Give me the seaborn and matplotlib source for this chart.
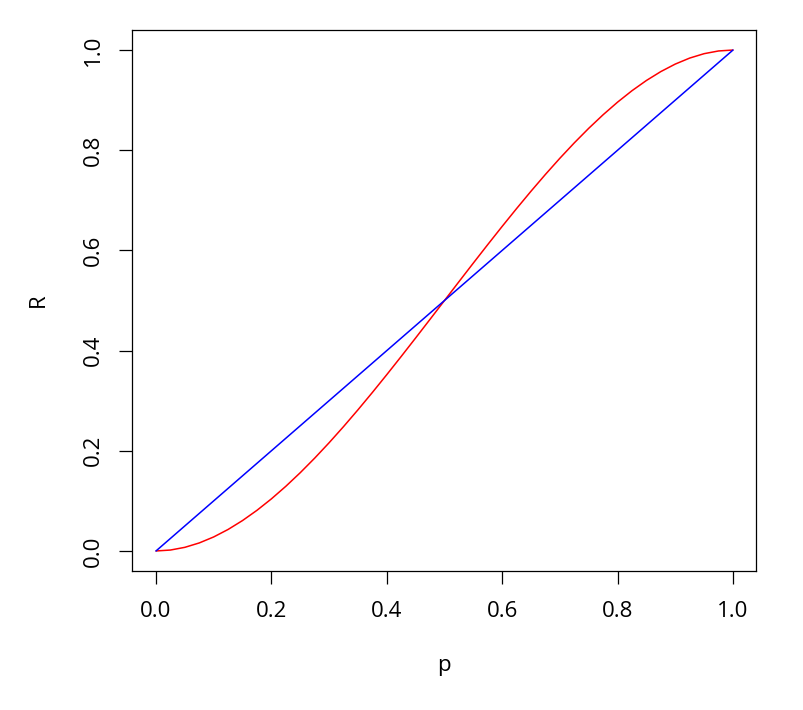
import matplotlib
matplotlib.use("Agg")
import matplotlib.pyplot as plt
import seaborn as sns
import pandas as pd

p_vals = [0.0, 0.025, 0.05, 0.075, 0.1, 0.125, 0.15, 0.175, 0.2, 0.225, 0.25,
          0.275, 0.3, 0.325, 0.35, 0.375, 0.4, 0.425, 0.45, 0.475, 0.5,
          0.525, 0.55, 0.575, 0.6, 0.625, 0.65, 0.675, 0.7, 0.725, 0.75,
          0.775, 0.8, 0.825, 0.85, 0.875, 0.9, 0.925, 0.95, 0.975, 1.0]
r_curve = [0.0, 0.00184, 0.00725, 0.01603, 0.028, 0.04297, 0.06075, 0.08116,
           0.104, 0.12909, 0.15625, 0.18528, 0.216, 0.24822, 0.28175, 0.31641,
           0.352, 0.38834, 0.42525, 0.46253, 0.5, 0.53747, 0.57475, 0.61166,
           0.648, 0.68359, 0.71825, 0.75178, 0.784, 0.81472, 0.84375, 0.87091,
           0.896, 0.91884, 0.93925, 0.95703, 0.972, 0.98397, 0.99275, 0.99816, 1.0]
line_p = [0.0, 1.0]
line_r = [0.0, 1.0]
ticks = [0.0, 0.2, 0.4, 0.6, 0.8, 1.0]
tick_labels = ["0.0", "0.2", "0.4", "0.6", "0.8", "1.0"]

sns.set_style("white")
plt.rcParams['font.family'] = ['Open Sans', 'DejaVu Sans']
plt.rcParams['text.color'] = 'black'
plt.rcParams['axes.labelcolor'] = 'black'

fig = plt.figure(figsize=(8.04, 7.10), dpi=100)
ax = fig.add_axes([132 / 804, (710 - 571) / 710, (756 - 132) / 804, (571 - 30) / 710])

df_curve = pd.DataFrame({"p": p_vals, "R": r_curve})
df_line = pd.DataFrame({"p": line_p, "R": line_r})
sns.lineplot(data=df_curve, x="p", y="R", color="red", linewidth=1.1, ax=ax, sort=False)
sns.lineplot(data=df_line, x="p", y="R", color="blue", linewidth=1.1, ax=ax, sort=False)

ax.set_xlim(-0.0416, 1.0399)
ax.set_ylim(-0.04, 1.04)
ax.set_xticks(ticks)
ax.set_xticklabels(tick_labels)
ax.set_yticks(ticks)
ax.set_yticklabels(tick_labels, rotation=90, va="center")
for s in ax.spines.values():
    s.set_visible(True)
    s.set_color("black")
    s.set_linewidth(0.9)
ax.tick_params(axis="both", direction="out", length=9.4, width=0.9, color="black",
               labelsize=16, labelcolor="black", left=True, bottom=True)
ax.tick_params(axis="x", pad=12)
ax.tick_params(axis="y", pad=11)
ax.set_xlabel("p", fontsize=16, labelpad=24, color="black")
ax.set_ylabel("R", fontsize=16, labelpad=24, rotation=90, color="black")
ax.grid(False)

fig.savefig("out.png", dpi=100)
